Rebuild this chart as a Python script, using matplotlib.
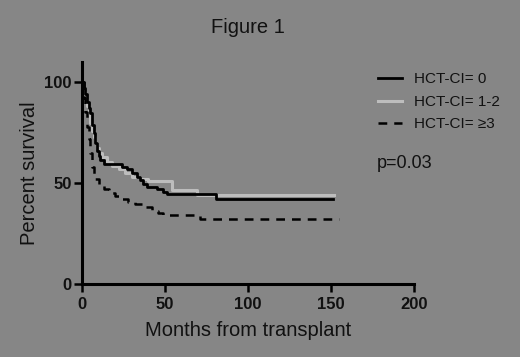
import matplotlib
matplotlib.use("Agg")
import matplotlib.pyplot as plt

plt.rcParams['font.family'] = ['Liberation Sans', 'DejaVu Sans']

BG = '#868686'

# Kaplan-Meier step data (months, percent survival)
hct0_x = [0, 1, 2, 3, 4, 5, 6, 7, 8, 9, 10, 11, 13, 22, 24, 27, 30, 33, 35, 37, 39, 45, 49, 51, 81, 151]
hct0_y = [100, 97, 94, 90, 87, 84.5, 79, 75, 70, 66, 63.5, 61.5, 59.5, 59.5, 58, 57, 55, 53, 51.5, 49.5, 48, 47, 45.5, 44.5, 42, 42]

hct12_x = [0, 1, 2, 3, 4, 5, 6, 7, 8, 9, 10, 12, 15, 18, 22, 26, 30, 35, 40, 54, 69, 152]
hct12_y = [100, 95, 91, 88, 84, 80, 76, 73, 70, 67.5, 65, 63, 60.5, 58.5, 57, 55, 53, 52, 51, 46.5, 44, 44]

hct3_x = [0, 1, 2, 3, 4, 5, 6, 7, 8, 10, 13, 16, 20, 24, 28, 32, 37, 42, 46, 49, 71, 155]
hct3_y = [100, 92, 85, 78, 72, 65, 58, 54.5, 52, 49.5, 47, 45, 43.5, 42, 40.5, 39.5, 38, 36, 35, 34, 32.2, 32.2]

labels = ['HCT-CI= 0', 'HCT-CI= 1-2', 'HCT-CI= \u22653']
xticks = [0, 50, 100, 150, 200]
yticks = [0, 50, 100]

fig = plt.figure(figsize=(5.2, 3.57), dpi=100, facecolor=BG)
ax = fig.add_axes([0.1577, 0.2045, 0.6385, 0.6218])
ax.set_facecolor(BG)

l12, = ax.step(hct12_x, hct12_y, where='post', color='#bdbdbd', lw=2.2, label=labels[1])
l0, = ax.step(hct0_x, hct0_y, where='post', color='black', lw=2.0, label=labels[0])
l3, = ax.step(hct3_x, hct3_y, where='post', color='black', lw=1.8, ls=(0, (3.5, 2.8)), label=labels[2])

ax.set_xlim(0, 200)
ax.set_ylim(0, 110)
ax.set_xticks(xticks)
ax.set_yticks(yticks)
for s in ['top', 'right']:
    ax.spines[s].set_visible(False)
for s in ['left', 'bottom']:
    ax.spines[s].set_linewidth(2.2)
    ax.spines[s].set_color('black')
ax.tick_params(direction='out', length=6, width=1.8, colors='black', labelsize=12, pad=1.5)
ax.tick_params(axis='x', pad=3.5)
for lab in ax.get_xticklabels() + ax.get_yticklabels():
    lab.set_fontweight('bold')
    lab.set_color('#111111')
ax.set_xlabel('Months from transplant', fontsize=14.5, color='#111111', labelpad=6)
ax.set_ylabel('Percent survival', fontsize=14.5, color='#111111', labelpad=4)

fig.text(0.476, 0.922, 'Figure 1', fontsize=14.5, ha='center', va='center', color='#111111')

leg = fig.legend([l0, l12, l3], labels,
                 loc='upper left', bbox_to_anchor=(0.727, 0.797), frameon=False,
                 fontsize=11, handlelength=1.57, handletextpad=0.78, labelspacing=0.55,
                 borderpad=0, borderaxespad=0)
for t in leg.get_texts():
    t.set_color('#111111')

fig.text(0.725, 0.543, 'p=0.03', fontsize=13, ha='left', va='center', color='#111111')

fig.savefig('out.png', dpi=100, facecolor=BG)
